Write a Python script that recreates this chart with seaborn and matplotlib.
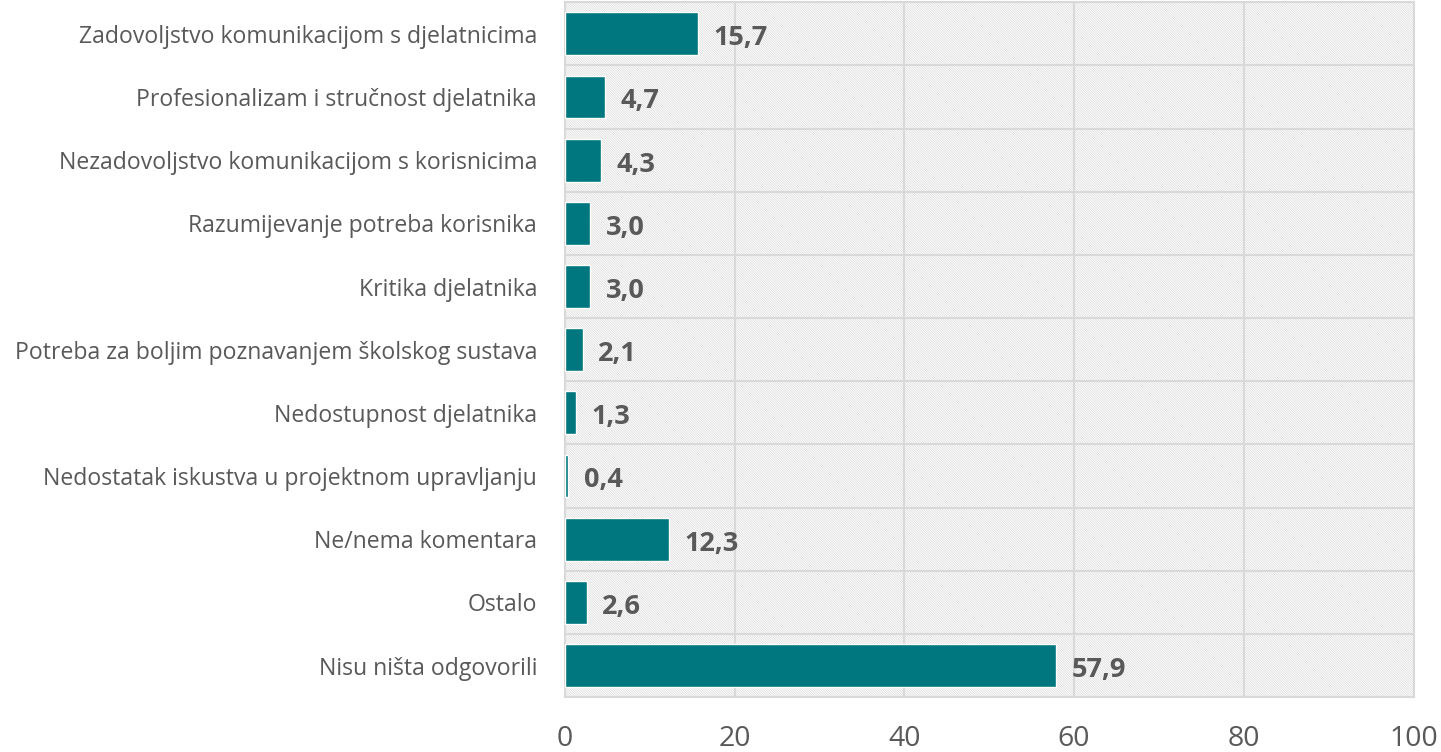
import matplotlib
matplotlib.use("Agg")
import matplotlib.pyplot as plt
import seaborn as sns
import pandas as pd

categories = [
    "Zadovoljstvo komunikacijom s djelatnicima",
    "Profesionalizam i stručnost djelatnika",
    "Nezadovoljstvo komunikacijom s korisnicima",
    "Razumijevanje potreba korisnika",
    "Kritika djelatnika",
    "Potreba za boljim poznavanjem školskog sustava",
    "Nedostupnost djelatnika",
    "Nedostatak iskustva u projektnom upravljanju",
    "Ne/nema komentara",
    "Ostalo",
    "Nisu ništa odgovorili",
]
values = [15.7, 4.7, 4.3, 3.0, 3.0, 2.1, 1.3, 0.4, 12.3, 2.6, 57.9]
xticks = [0, 20, 40, 60, 80, 100]

df = pd.DataFrame({"cat": categories, "val": values})

sns.set_theme(style="white")
plt.rcParams["font.family"] = ["Open Sans", "DejaVu Sans"]
plt.rcParams["hatch.linewidth"] = 0.5

TEXT = "#595959"
GRID = "#d9d9d9"
BAR = "#00767f"

fig = plt.figure(figsize=(14.41, 7.52), dpi=100)
ax = fig.add_axes([0.392, 0.073, 0.589, 0.924])

ax.patch.set_facecolor("white")
ax.patch.set_hatch("\\" * 14)
ax.patch.set_edgecolor("#d9d9d9")

sns.barplot(data=df, x="val", y="cat", orient="h", color=BAR, width=0.68,
            saturation=1, ax=ax, zorder=3)

ax.set_xlim(0, 100)
ax.set_ylim(len(categories) - 0.5, -0.5)
ax.set_xticks(xticks)
ax.set_xticklabels([str(t) for t in xticks])
ax.set_xlabel("")
ax.set_ylabel("")

for t in xticks[1:-1]:
    ax.axvline(t, color=GRID, lw=1.5, zorder=1)
for i in range(len(categories) + 1):
    ax.axhline(i - 0.5, color=GRID, lw=1.5, zorder=1)

for s in ax.spines.values():
    s.set_visible(True)
    s.set_color(GRID)
    s.set_linewidth(1.5)

ax.tick_params(axis="y", length=0, pad=20, labelsize=16.6, labelcolor=TEXT)
ax.tick_params(axis="x", length=0, pad=20, labelsize=20.5, labelcolor=TEXT)

for i, v in enumerate(values):
    ax.text(v + 1.8, i + 0.07, f"{v:.1f}".replace(".", ","), va="center", ha="left",
            fontsize=19.5, fontweight="bold", color=TEXT, zorder=4)

fig.savefig("out.png", dpi=100)
